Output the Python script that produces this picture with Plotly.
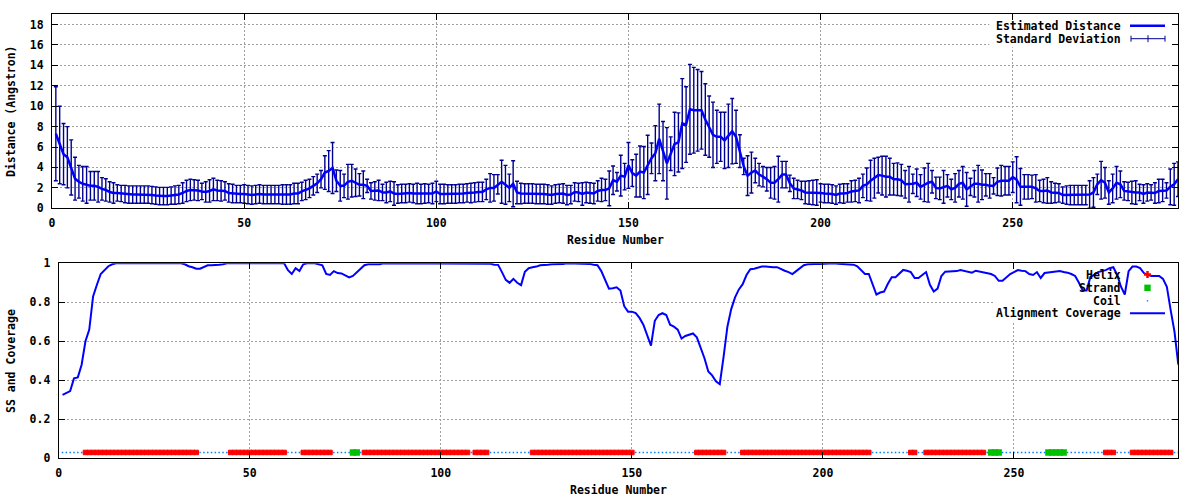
import plotly.graph_objects as go

# ---------------- data ----------------
residues = list(range(1, 294))

distance = [
    7.3, 6.2, 5.3, 5.0, 4.0, 2.9, 2.6, 2.4, 2.3, 2.2,
    2.2, 2.1, 1.9, 1.8, 1.6, 1.5, 1.5, 1.45, 1.4, 1.35,
    1.35, 1.35, 1.35, 1.35, 1.35, 1.3, 1.25, 1.2, 1.2, 1.2,
    1.25, 1.3, 1.35, 1.5, 1.7, 1.8, 1.8, 1.75, 1.65, 1.6,
    1.7, 1.85, 1.75, 1.7, 1.7, 1.5, 1.45, 1.4, 1.4, 1.4,
    1.35, 1.3, 1.35, 1.4, 1.35, 1.35, 1.35, 1.35, 1.35, 1.35,
    1.35, 1.35, 1.45, 1.45, 1.65, 1.8, 1.95, 2.2, 2.45, 2.85,
    3.5, 3.65, 3.95, 2.7, 2.2, 2.2, 2.6, 2.7, 2.5, 2.3,
    2.3, 2.2, 1.7, 1.7, 1.75, 1.55, 1.55, 1.65, 1.45, 1.4,
    1.45, 1.45, 1.5, 1.45, 1.45, 1.4, 1.45, 1.45, 1.45, 1.65,
    1.4, 1.4, 1.4, 1.4, 1.4, 1.45, 1.45, 1.5, 1.5, 1.55,
    1.6, 1.6, 1.85, 2.0, 2.0, 2.35, 2.6, 2.3, 2.0, 2.4,
    1.55, 1.45, 1.45, 1.45, 1.45, 1.4, 1.4, 1.4, 1.35, 1.3,
    1.4, 1.45, 1.45, 1.3, 1.35, 1.6, 1.55, 1.4, 1.55, 1.5,
    1.45, 1.7, 1.8, 1.8, 1.95, 2.75, 2.6, 3.2, 3.1, 4.2,
    3.45, 3.2, 3.6, 3.5, 4.25, 4.9, 5.4, 6.8, 5.6, 4.4,
    5.35, 6.3, 6.45, 8.3, 8.2, 9.7, 9.6, 9.6, 9.6, 8.7,
    8.0, 7.2, 7.0, 7.0, 6.65, 7.1, 7.55, 7.0, 5.6, 4.1,
    3.2, 3.5, 3.7, 3.3, 3.1, 2.85, 2.5, 2.5, 2.85, 3.3,
    3.3, 2.45, 1.95, 1.85, 1.75, 1.55, 1.55, 1.55, 1.55, 1.5,
    1.45, 1.45, 1.4, 1.3, 1.45, 1.45, 1.5, 1.65, 1.7, 1.75,
    2.2, 2.35, 2.7, 2.95, 3.25, 3.2, 3.1, 3.1, 2.85, 2.85,
    2.75, 2.35, 2.35, 2.4, 2.5, 2.1, 2.3, 2.5, 2.6, 2.0,
    1.95, 2.1, 2.2, 1.85, 2.0, 2.4, 2.5, 1.85, 2.1, 2.4,
    2.4, 2.3, 2.3, 2.2, 2.2, 2.6, 2.7, 2.7, 2.7, 3.05,
    2.8, 2.1, 2.1, 2.1, 2.1, 1.95, 1.7, 1.7, 1.75, 1.55,
    1.5, 1.5, 1.3, 1.3, 1.3, 1.3, 1.3, 1.3, 1.3, 1.35,
    1.55, 2.35, 2.75, 2.5, 1.55, 1.95, 2.5, 2.35, 1.7, 1.65,
    1.55, 1.55, 1.55, 1.4, 1.55, 1.55, 1.5, 1.7, 1.75, 1.75,
    2.1, 2.35, 2.85,
]

std_dev = [
    4.6, 3.8, 3.0, 3.0, 2.7, 2.1, 1.6, 1.7, 1.8, 1.4,
    1.4, 1.5, 1.1, 1.1, 1.0, 1.0, 0.8, 0.8, 0.85, 0.85,
    0.85, 0.85, 0.85, 0.85, 0.85, 0.85, 0.85, 0.85, 0.85, 0.85,
    0.85, 0.9, 0.9, 1.0, 1.05, 1.05, 1.0, 1.0, 0.8, 1.0,
    1.1, 1.1, 1.0, 1.0, 0.9, 0.9, 0.9, 0.85, 0.85, 0.9,
    0.9, 0.9, 0.9, 0.9, 0.9, 0.9, 0.9, 0.9, 0.9, 0.95,
    0.95, 0.95, 1.0, 1.0, 0.9, 0.95, 0.9, 0.9, 0.9, 0.85,
    1.65, 2.0, 2.5, 1.05, 1.5, 1.15, 1.7, 1.6, 1.35, 1.1,
    1.35, 0.65, 0.8, 0.9, 1.0, 0.8, 1.0, 1.0, 1.15, 0.9,
    0.9, 0.9, 0.9, 0.9, 1.0, 0.95, 0.95, 0.9, 1.0, 1.0,
    0.95, 0.95, 0.9, 0.9, 0.9, 0.9, 0.9, 0.9, 0.95, 0.95,
    0.95, 0.95, 1.0, 1.4, 1.3, 0.95, 2.1, 1.9, 1.35, 2.25,
    1.1, 1.0, 0.95, 0.95, 0.95, 0.95, 0.95, 0.95, 0.95, 0.9,
    0.9, 0.9, 0.95, 0.95, 0.9, 0.9, 0.9, 1.1, 1.0, 1.0,
    1.0, 1.0, 1.15, 1.05, 1.7, 1.4, 0.9, 2.0, 1.3, 2.25,
    1.3, 2.1, 2.5, 2.55, 2.9, 1.5, 2.7, 3.4, 2.9, 3.5,
    1.65, 3.1, 2.9, 4.4, 3.7, 4.4, 4.2, 4.0, 3.8, 3.5,
    3.0, 3.2, 2.6, 2.4, 2.75, 3.1, 3.2, 2.6, 1.6, 0.8,
    1.95, 2.0, 1.2, 1.1, 1.0, 1.15, 1.5, 1.6, 2.25, 1.3,
    1.3, 0.8, 1.0, 0.9, 0.9, 1.1, 1.15, 1.2, 1.25, 0.9,
    0.9, 0.9, 0.9, 0.9, 0.9, 0.95, 0.9, 1.05, 1.05, 1.2,
    1.15, 1.6, 2.0, 1.95, 1.75, 1.9, 2.0, 1.8, 1.55, 1.6,
    1.55, 1.35, 1.75, 0.95, 1.35, 1.2, 1.65, 1.9, 1.1, 1.05,
    1.1, 1.6, 1.1, 1.0, 1.4, 1.3, 1.6, 1.65, 0.85, 1.3,
    1.8, 1.45, 1.1, 1.2, 0.8, 1.35, 1.5, 1.4, 1.4, 1.5,
    2.25, 1.8, 1.2, 1.2, 1.15, 1.35, 1.05, 1.15, 1.25, 1.05,
    0.95, 0.9, 0.8, 0.9, 0.95, 0.95, 0.95, 0.95, 0.95, 1.35,
    1.45, 1.0, 1.85, 1.5, 1.15, 1.4, 1.6, 1.3, 0.9, 0.9,
    1.1, 1.15, 0.8, 0.9, 0.85, 0.75, 1.0, 1.15, 1.1, 0.75,
    1.75, 2.05, 1.7,
]

coverage = [
    0.325, 0.335, 0.345, 0.41, 0.415, 0.48, 0.6, 0.66, 0.83, 0.89,
    0.945, 0.965, 0.985, 0.995, 1.0, 1.0, 1.0, 1.0, 1.0, 1.0,
    1.0, 1.0, 1.0, 1.0, 1.0, 1.0, 1.0, 1.0, 1.0, 1.0,
    1.0, 1.0, 0.995, 0.985, 0.98, 0.972, 0.972, 0.98, 0.99, 0.99,
    0.99, 0.992, 0.995, 1.0, 1.0, 1.0, 1.0, 1.0, 1.0, 1.0,
    1.0, 1.0, 1.0, 1.0, 1.0, 1.0, 1.0, 1.0, 1.0, 0.965,
    0.945, 0.975, 0.96, 0.995, 1.0, 1.0, 1.0, 0.995, 0.99, 0.945,
    0.94, 0.96, 0.95, 0.948, 0.94, 0.928, 0.935, 0.955, 0.975, 0.99,
    0.995, 0.995, 0.995, 0.995, 1.0, 1.0, 1.0, 1.0, 1.0, 1.0,
    1.0, 1.0, 1.0, 1.0, 1.0, 1.0, 1.0, 1.0, 1.0, 1.0,
    1.0, 1.0, 1.0, 1.0, 1.0, 1.0, 1.0, 1.0, 1.0, 1.0,
    1.0, 1.0, 0.998, 0.993, 0.992, 0.955, 0.915, 0.9, 0.92, 0.9,
    0.888, 0.957, 0.975, 0.98, 0.983, 0.99, 0.99, 0.993, 0.995, 0.995,
    0.997, 0.997, 1.0, 1.0, 1.0, 1.0, 1.0, 1.0, 0.997, 0.993,
    0.99, 0.96, 0.915, 0.87, 0.872, 0.877, 0.86, 0.78, 0.752, 0.752,
    0.745, 0.72, 0.685, 0.63, 0.578, 0.705, 0.735, 0.744, 0.735, 0.685,
    0.675, 0.66, 0.614, 0.627, 0.632, 0.64, 0.62, 0.565, 0.513, 0.445,
    0.425, 0.395, 0.38, 0.52, 0.675, 0.765, 0.825, 0.866, 0.893, 0.94,
    0.97, 0.972, 0.976, 0.983, 0.983, 0.98, 0.98, 0.98, 0.97, 0.962,
    0.955, 0.945, 0.96, 0.975, 0.99, 0.995, 0.997, 0.997, 0.997, 0.998,
    1.0, 1.0, 1.0, 0.998, 0.997, 0.997, 0.997, 0.993, 0.985, 0.966,
    0.945, 0.945, 0.89, 0.84, 0.85, 0.855, 0.895, 0.928, 0.928, 0.945,
    0.966, 0.962, 0.955, 0.925, 0.925, 0.94, 0.955, 0.89, 0.855, 0.87,
    0.935, 0.957, 0.957, 0.957, 0.96, 0.966, 0.962, 0.955, 0.952, 0.962,
    0.958, 0.955, 0.95, 0.945, 0.935, 0.91, 0.91, 0.93, 0.945, 0.955,
    0.965, 0.962, 0.96, 0.945, 0.94, 0.955, 0.925, 0.95, 0.953, 0.955,
    0.958, 0.96, 0.955, 0.952, 0.945, 0.935, 0.9, 0.86, 0.86, 0.93,
    0.94, 0.955, 0.96, 0.965, 0.975, 0.98, 0.94, 0.88, 0.84, 0.96,
    0.983, 0.983, 0.975, 0.95, 0.94, 0.935, 0.935, 0.935, 0.92, 0.88,
    0.76, 0.65, 0.48,
]

# secondary structure segments (inclusive residue ranges); the rest is coil
helix_ranges = [(7, 36), (45, 59), (64, 71), (80, 107), (109, 112), (124, 150),
                (167, 174), (179, 212), (223, 224), (227, 242), (274, 276), (281, 291)]
strand_ranges = [(77, 78), (244, 246), (259, 263)]
ss_level = 0.03

x_ticks = [0, 50, 100, 150, 200, 250]
dist_ticks = [0, 2, 4, 6, 8, 10, 12, 14, 16, 18]
cov_ticks = [0, 0.2, 0.4, 0.6, 0.8, 1.0]
cov_tick_labels = ["0", "0.2", "0.4", "0.6", "0.8", "1"]

# ---------------- derived per-residue SS ----------------
ss = {r: "C" for r in residues}
for a, b in helix_ranges:
    for r in range(a, b + 1):
        ss[r] = "H"
for a, b in strand_ranges:
    for r in range(a, b + 1):
        ss[r] = "E"
helix_x = [r for r in residues if ss[r] == "H"]
strand_x = [r for r in residues if ss[r] == "E"]
coil_x = [r for r in residues if ss[r] == "C"]

# ---------------- styling ----------------
W, H = 1200, 500
FONT = dict(family="DejaVu Sans Mono", size=11.5, color="black", weight="bold")
BLUE = "#0000ff"
NAVY = "#000090"
GRID = "#a0a0a0"


def PX(x):
    """page pixel x -> paper fraction"""
    return x / W


def PY(y):
    """page pixel y -> paper fraction"""
    return 1 - y / H


fig = go.Figure()

# top panel
fig.add_trace(go.Scatter(
    x=residues, y=distance, mode="markers", xaxis="x", yaxis="y",
    marker=dict(size=1, color=NAVY),
    error_y=dict(type="data", array=std_dev, visible=True, color=NAVY,
                 thickness=1.4, width=2),
    showlegend=False, hoverinfo="skip"))
fig.add_trace(go.Scatter(
    x=residues, y=distance, mode="lines", xaxis="x", yaxis="y",
    line=dict(color=BLUE, width=2.5), showlegend=False))

# bottom panel
fig.add_trace(go.Scatter(
    x=coil_x, y=[ss_level] * len(coil_x), mode="markers", xaxis="x2", yaxis="y2",
    marker=dict(symbol="square", size=1.5, color="#0080ff", line=dict(width=0)),
    showlegend=False))
fig.add_trace(go.Scatter(
    x=helix_x, y=[ss_level] * len(helix_x), mode="markers", xaxis="x2", yaxis="y2",
    marker=dict(symbol="square", size=4.5, color="#ff0000", line=dict(width=1, color="#ff0000")),
    showlegend=False))
fig.add_trace(go.Scatter(
    x=strand_x, y=[ss_level] * len(strand_x), mode="markers", xaxis="x2", yaxis="y2",
    marker=dict(symbol="square", size=6.4, color="#00c000", line=dict(width=0)),
    showlegend=False))
fig.add_trace(go.Scatter(
    x=residues, y=coverage, mode="lines", xaxis="x2", yaxis="y2",
    line=dict(color=BLUE, width=2), showlegend=False))

axis_common = dict(
    showgrid=True, gridcolor=GRID, griddash="2px,2px", gridwidth=1,
    zeroline=False, showline=True, linecolor="black", linewidth=1,
    mirror="ticks", ticks="inside", ticklen=6, tickcolor="black", tickwidth=1,
    tickfont=FONT, automargin=False,
)

fig.update_layout(
    width=W, height=H, margin=dict(l=0, r=0, t=0, b=0, pad=0),
    paper_bgcolor="white", plot_bgcolor="white", showlegend=False,
    hovermode=False,
    xaxis=dict(domain=[PX(52), PX(1178)], range=[0, 293], tickvals=x_ticks,
               anchor="y", ticklabelstandoff=4, **axis_common),
    yaxis=dict(domain=[PY(208.3), PY(14.3)], range=[0, 19], tickvals=dist_ticks,
               anchor="x", ticklabelstandoff=5, **axis_common),
    xaxis2=dict(domain=[PX(58.7), PX(1178.3)], range=[0, 293], tickvals=x_ticks,
                anchor="y2", ticklabelstandoff=4, **axis_common),
    yaxis2=dict(domain=[PY(458.3), PY(263.3)], range=[0, 1], tickvals=cov_ticks,
                ticktext=cov_tick_labels, anchor="x2", ticklabelstandoff=5, **axis_common),
)

# white key boxes (hide grid behind the keys, like gnuplot's opaque key)
shapes = [
    dict(type="rect", xref="x", yref="y", x0=(990 - 52) / 3.846, x1=293,
         y0=(208.3 - 48) / 10.17, y1=19, fillcolor="white", line=dict(width=0),
         layer="between"),
    dict(type="rect", xref="x2", yref="y2", x0=(995 - 58.7) / 3.822, x1=293,
         y0=(458.3 - 321) / 195, y1=1, fillcolor="white", line=dict(width=0),
         layer="between"),
]


def pline(x0, y0, x1, y1, color, width):
    return dict(type="line", xref="paper", yref="paper",
                x0=PX(x0), y0=PY(y0), x1=PX(x1), y1=PY(y1),
                line=dict(color=color, width=width), layer="above")


# top key samples
shapes.append(pline(1130, 25.7, 1165, 25.7, BLUE, 2.5))
shapes.append(pline(1131, 38.7, 1165, 38.7, NAVY, 1))
shapes.append(pline(1131, 35.7, 1131, 41.7, NAVY, 1))
shapes.append(pline(1165, 35.7, 1165, 41.7, NAVY, 1))
shapes.append(pline(1148, 35.2, 1148, 42.2, NAVY, 1))
# bottom key samples
shapes.append(pline(1144, 274.5, 1151, 274.5, "#ff0000", 2.5))
shapes.append(pline(1147.5, 271, 1147.5, 278, "#ff0000", 2.5))
shapes.append(dict(type="rect", xref="paper", yref="paper",
                   x0=PX(1144.3), x1=PX(1150.7), y0=PY(291), y1=PY(284.6),
                   fillcolor="#00c000", line=dict(width=0), layer="above"))
shapes.append(dict(type="rect", xref="paper", yref="paper",
                   x0=PX(1146.8), x1=PX(1148.2), y0=PY(301.5), y1=PY(300.1),
                   fillcolor="#0080ff", line=dict(width=0), layer="above"))
shapes.append(pline(1130, 313.3, 1165, 313.3, BLUE, 2))
fig.update_layout(shapes=shapes)

annotations = []


def ann(text, x, y, xanchor="center", angle=0):
    annotations.append(dict(text=text, x=PX(x), y=PY(y), xref="paper", yref="paper",
                            xanchor=xanchor, yanchor="middle", showarrow=False,
                            textangle=angle, font=FONT))


ann("Distance (Angstron)", 11, 111, angle=-90)
ann("Residue Number", 615, 240)
ann("SS and Coverage", 11, 361, angle=-90)
ann("Residue Number", 618, 490)
ann("Estimated Distance", 1123, 25.7, xanchor="right")
ann("Standard Deviation", 1123, 38.7, xanchor="right")
ann("Helix", 1123, 275, xanchor="right")
ann("Strand", 1123, 287.7, xanchor="right")
ann("Coil", 1123, 300.7, xanchor="right")
ann("Alignment Coverage", 1123, 313.3, xanchor="right")
fig.update_layout(annotations=annotations)

# remove the default 8px body margin so the 1200x500 figure fills the page exactly
fig.write_html("out.html",
               config={"displayModeBar": False, "staticPlot": True},
               post_script="document.body.style.margin='0';document.body.style.overflow='hidden';")
